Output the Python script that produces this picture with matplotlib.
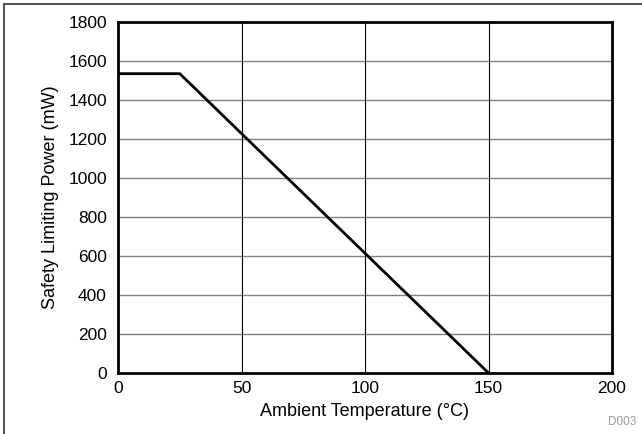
import matplotlib
matplotlib.use("Agg")
import matplotlib.pyplot as plt
from matplotlib.lines import Line2D

plt.rcParams['font.family'] = ['Liberation Sans', 'DejaVu Sans']

temperature = [0, 25, 150]
power = [1535, 1535, 0]
x_ticks = [0, 50, 100, 150, 200]
y_ticks = [0, 200, 400, 600, 800, 1000, 1200, 1400, 1600, 1800]

fig = plt.figure(figsize=(6.42, 4.34), dpi=100)
ax = fig.add_axes([118/642, 1 - 373/434, (612 - 118)/642, (373 - 22)/434])

ax.plot(temperature, power, color='black', lw=2.0, solid_capstyle='butt', zorder=3)
ax.set_xlim(0, 200)
ax.set_ylim(0, 1800)
ax.set_xticks(x_ticks)
ax.set_yticks(y_ticks)
ax.tick_params(length=0, labelsize=12.5)
ax.tick_params(axis='x', pad=6)
ax.tick_params(axis='y', pad=8)
for v in y_ticks[1:-1]:
    ax.axhline(v, color='#808080', lw=1.0, zorder=1)
for v in x_ticks[1:-1]:
    ax.axvline(v, color='black', lw=0.8, zorder=1)
for s in ax.spines.values():
    s.set_linewidth(2.0)
ax.set_xlabel('Ambient Temperature (°C)', fontsize=13, labelpad=5)
ax.set_ylabel('Safety Limiting Power (mW)', fontsize=13, labelpad=7)

fig.add_artist(Line2D([4/642, 1], [1 - 4/434] * 2, color='#555555', lw=1.5, transform=fig.transFigure))
fig.add_artist(Line2D([4/642] * 2, [0, 1 - 4/434], color='#555555', lw=1.5, transform=fig.transFigure))
fig.text(636/642, 1 - 422/434, 'D003', fontsize=8.5, color='#999999', ha='right', va='center')

fig.savefig('out.png', dpi=100)
